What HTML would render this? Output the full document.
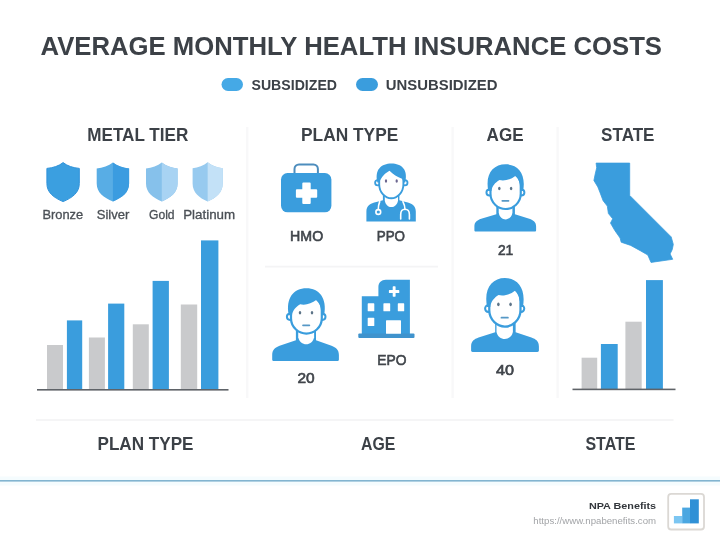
<!DOCTYPE html>
<html lang="en">
<head>
<meta charset="utf-8">
<title>Average Monthly Health Insurance Costs</title>
<style>
  html, body { margin: 0; padding: 0; background: #ffffff; }
  body { width: 720px; height: 541px; overflow: hidden; font-family: "Liberation Sans", sans-serif; }
  svg { display: block; }
  text { font-family: "Liberation Sans", sans-serif; }
  .h { font-weight: bold; fill: #3c4147; }
  .m { font-weight: normal; fill: #40454b; stroke: #40454b; stroke-width: 0.6px; }
  .r { font-weight: normal; fill: #4b5056; stroke: #4b5056; stroke-width: 0.32px; }
</style>
</head>
<body>
<svg width="720" height="541" viewBox="0 0 720 541">
  <defs>
    <!-- shield -->
    <path id="shield" d="M16.2,0 C12,3.4 6,5.3 0,5.8 L0,21 C0,30 7,35.2 16.2,39 C25.4,35.2 32.4,30 32.4,21 L32.4,5.8 C26.4,5.3 20.4,3.4 16.2,0 Z"/>
    <clipPath id="shieldR"><rect x="16.2" y="-1" width="18" height="42"/></clipPath>

    <!-- person -->
    <g id="pbody">
      <path fill="#3a9ddd" d="M1.5,73 C0.5,73 0,72.5 0,71.5 L0,67 C0,61.6 3,59.3 7.4,57.6 L23.8,52 L23.8,40 L44,40 L44,52 L59.6,57.6 C64,59.3 67,61.6 67,67 L67,71.5 C67,72.5 66.5,73 65.5,73 Z"/>
    </g>
    <g id="pneck">
      <path fill="#ffffff" d="M25.6,36 L25.6,49.4 C26.5,54 30.2,56.4 33.9,56.4 C37.6,56.4 41.3,54 42.2,49.4 L42.2,36 Z"/>
    </g>
    <g id="phead">
      <circle cx="18" cy="28.6" r="3.1" fill="#ffffff" stroke="#3a9ddd" stroke-width="2"/>
      <circle cx="50.4" cy="28.6" r="3.1" fill="#ffffff" stroke="#3a9ddd" stroke-width="2"/>
      <path fill="#ffffff" stroke="#3a9ddd" stroke-width="2.2" d="M19,22 L19,30 C19,39.6 27.2,45.4 34.4,45.4 C41.6,45.4 49.8,39.6 49.8,30 L49.8,22 C49.8,13 43.4,8 34.4,8 C25.4,8 19,13 19,22 Z"/>
      <path fill="#3a9ddd" d="M16.8,27 C13.4,10 21.6,0 34.4,0 C47.2,0 55.4,10 52.2,27 L49.8,27 C49.8,20 47.6,14.4 44.6,11.6 C39.6,15.6 33.2,17.2 28.2,16 C23.6,18.6 20.6,22.4 20,27 Z"/>
      <ellipse cx="28" cy="24.6" rx="1.25" ry="1.8" fill="#5d7488"/>
      <ellipse cx="40" cy="24.6" rx="1.25" ry="1.8" fill="#5d7488"/>
      <path d="M31,37.1 L37.4,37.1" stroke="#5698c6" stroke-width="1.7" stroke-linecap="round" fill="none"/>
    </g>
  </defs>

  <rect x="0" y="0" width="720" height="541" fill="#ffffff"/>

  <!-- faint dividers -->
  <g fill="none">
    <path d="M247.2,127 V398" stroke="#f8f8f9" stroke-width="2.4"/>
    <path d="M452.6,127 V398" stroke="#f8f8f9" stroke-width="2.4"/>
    <path d="M557.6,127 V398" stroke="#f8f8f9" stroke-width="2.4"/>
    <path d="M265,266.6 H438" stroke="#f4f4f5" stroke-width="1.6"/>
    <path d="M36,420 H673.5" stroke="#f5f5f6" stroke-width="2"/>
  </g>

  <!-- title -->
  <text class="h" x="40.5" y="55.3" font-size="25" textLength="621.5" lengthAdjust="spacingAndGlyphs">AVERAGE MONTHLY HEALTH INSURANCE COSTS</text>

  <!-- legend -->
  <rect x="221.5" y="78" width="21.5" height="13" rx="6.5" fill="#45a9e6"/>
  <text class="h" x="251.5" y="90" font-size="15" textLength="85.5" lengthAdjust="spacingAndGlyphs">SUBSIDIZED</text>
  <rect x="356" y="78" width="22" height="13" rx="6.5" fill="#3a9ddd"/>
  <text class="h" x="385.8" y="90" font-size="15" textLength="111.7" lengthAdjust="spacingAndGlyphs">UNSUBSIDIZED</text>

  <!-- section headings -->
  <text class="h" x="87.3" y="141" font-size="18" textLength="101" lengthAdjust="spacingAndGlyphs">METAL TIER</text>
  <text class="h" x="301" y="141" font-size="18" textLength="97.3" lengthAdjust="spacingAndGlyphs">PLAN TYPE</text>
  <text class="h" x="486.6" y="141" font-size="18" textLength="37" lengthAdjust="spacingAndGlyphs">AGE</text>
  <text class="h" x="601.1" y="141" font-size="18" textLength="53.4" lengthAdjust="spacingAndGlyphs">STATE</text>

  <!-- shields -->
  <g transform="translate(46.9,162.6)">
    <use href="#shield" fill="#3b9fe0" stroke="#3193da" stroke-width="1"/>
  </g>
  <g transform="translate(96.7,162.6)">
    <use href="#shield" fill="#58ade5"/>
    <use href="#shield" fill="#3b9ce0" clip-path="url(#shieldR)"/>
  </g>
  <g transform="translate(146,162.6) scale(0.975,1)">
    <use href="#shield" fill="#86c1eb"/>
    <use href="#shield" fill="#a8d3f3" clip-path="url(#shieldR)"/>
  </g>
  <g transform="translate(192.6,162.3) scale(0.93,1.005)">
    <use href="#shield" fill="#97caef"/>
    <use href="#shield" fill="#c3e1f7" clip-path="url(#shieldR)"/>
  </g>

  <!-- shield labels -->
  <text class="r" x="42.5" y="218.5" font-size="13" textLength="40.7" lengthAdjust="spacingAndGlyphs">Bronze</text>
  <text class="r" x="96.7" y="218.5" font-size="13" textLength="32.6" lengthAdjust="spacingAndGlyphs">Silver</text>
  <text class="r" x="149" y="218.5" font-size="13" textLength="25.6" lengthAdjust="spacingAndGlyphs">Gold</text>
  <text class="r" x="183.2" y="218.5" font-size="13" textLength="51.9" lengthAdjust="spacingAndGlyphs">Platinum</text>

  <!-- metal tier bar chart -->
  <g fill="#c9cacc">
    <rect x="47" y="345" width="16" height="44.5"/>
    <rect x="88.9" y="337.5" width="16" height="52"/>
    <rect x="132.8" y="324.3" width="16" height="65.2"/>
    <rect x="180.8" y="304.5" width="16.4" height="85"/>
  </g>
  <g fill="#3a9ddd">
    <rect x="66.9" y="320.4" width="15.3" height="69.1"/>
    <rect x="108.1" y="303.6" width="16.2" height="85.9"/>
    <rect x="152.6" y="280.9" width="16.3" height="108.6"/>
    <rect x="201" y="240.4" width="17.4" height="149.1"/>
  </g>
  <rect x="37" y="389" width="191.5" height="1.6" fill="#5f6368"/>

  <!-- HMO briefcase -->
  <g>
    <rect x="294.5" y="164.5" width="23.4" height="16" rx="4.5" fill="none" stroke="#4d8dbd" stroke-width="2"/>
    <rect x="281" y="173" width="50.4" height="39.3" rx="6.5" fill="#3a9ddd"/>
    <path fill="#ffffff" d="M303.3,182.5 H309.7 Q310.7,182.5 310.7,183.5 V189.3 H316.2 Q317.2,189.3 317.2,190.3 V196.7 Q317.2,197.7 316.2,197.7 H310.7 V202.9 Q310.7,203.9 309.7,203.9 H303.3 Q302.3,203.9 302.3,202.9 V197.7 H296.9 Q295.9,197.7 295.9,196.7 V190.3 Q295.9,189.3 296.9,189.3 H302.3 V183.5 Q302.3,182.5 303.3,182.5 Z"/>
  </g>
  <text class="m" x="290.1" y="241" font-size="14.4" textLength="33.1" lengthAdjust="spacingAndGlyphs">HMO</text>

  <!-- PPO doctor -->
  <g transform="translate(366.4,163.4)">
    <path fill="#3a9ddd" d="M0,58.2 L0,48 C0,42 4,40 10,38.5 L16.5,36.8 L16.5,30 L33,30 L33,36.8 L39.4,38.5 C45.4,40 49.4,42 49.4,48 L49.4,58.2 Z"/>
    <path fill="#ffffff" d="M18.4,30 L18.4,37 C19,41 21.5,43.6 24.9,43.6 C28.3,43.6 31,41 31.6,37 L31.6,30 Z"/>
    <circle cx="11.3" cy="19.4" r="2.6" fill="#ffffff" stroke="#3a9ddd" stroke-width="1.8"/>
    <circle cx="38.5" cy="19.4" r="2.6" fill="#ffffff" stroke="#3a9ddd" stroke-width="1.8"/>
    <path fill="#ffffff" stroke="#3a9ddd" stroke-width="1.9" d="M12.8,15 L12.8,21 C12.8,29 19,34.8 24.9,34.8 C30.8,34.8 37,29 37,21 L37,15 C37,8 32,4 24.9,4 C17.8,4 12.8,8 12.8,15 Z"/>
    <path fill="#3a9ddd" d="M11,19 C8,6 15,0 25,0 C35,0 42,6 38.8,19 L37,19 C36.7,17.4 36.2,16.2 35.6,15.3 C31,13.6 26.6,11 23.1,7.4 C19,9.6 15,13.2 13,19 Z"/>
    <ellipse cx="19.6" cy="17.6" rx="1.15" ry="1.75" fill="#6d6790"/>
    <ellipse cx="30.3" cy="17.6" rx="1.15" ry="1.75" fill="#6d6790"/>
    <!-- stethoscope -->
    <g fill="none" stroke="#ffffff" stroke-width="1.6" stroke-linecap="round">
      <path d="M13.3,38.2 C12.2,41 11.8,43.5 11.9,46"/>
      <circle cx="11.9" cy="48.6" r="2.4"/>
      <path d="M36.5,38.2 C38,41 38.6,43.5 38.6,46"/>
      <path d="M34.3,55.5 L34.3,51 C34.3,47.5 36,45.8 38.6,45.8 C41.2,45.8 43,47.5 43,51 L43,55.5"/>
    </g>
  </g>
  <text class="m" x="376.7" y="241" font-size="14.4" textLength="28.3" lengthAdjust="spacingAndGlyphs">PPO</text>

  <!-- AGE 21 -->
  <g transform="translate(474.4,171.6) scale(0.921,0.819)"><use href="#pbody"/></g>
  <g transform="translate(477.6,165.8) scale(0.825,0.95)"><use href="#pneck"/></g>
  <g transform="translate(471.8,164.3) scale(0.983,0.985)"><use href="#phead"/></g>
  <text class="m" x="497.9" y="255" font-size="14.4" textLength="15.4" lengthAdjust="spacingAndGlyphs">21</text>

  <!-- California -->
  <path fill="#3a9ddd" stroke="#3a9ddd" stroke-width="0.8" stroke-linejoin="round" d="M596.1,163.1 L629.7,163.1 L629.7,195.4 L671.2,236.9 L673.3,244.4 L672.2,249.7 L670.1,253.9 L672.7,259.3 L651,262.4 L647.8,255 L640.3,250.7 L630.7,245.4 L621.2,242.2 L620.1,238 L614.8,230.5 L610.5,223.1 L612.7,218.8 L608.4,213.5 L607.3,206.1 L603.1,200.7 L599.9,192.2 L597.8,186.9 L593.9,180.5 L595.2,174.1 L596.7,167.8 Z"/>

  <!-- person 20 -->
  <g transform="translate(272.2,289) scale(0.9955,0.986)"><use href="#pbody"/></g>
  <g transform="translate(273.7,287.8) scale(0.958,1)"><use href="#pneck"/></g>
  <g transform="translate(272,288.3) scale(1,0.997)"><use href="#phead"/></g>
  <text class="m" x="297.5" y="383" font-size="14.4" textLength="17.2" lengthAdjust="spacingAndGlyphs">20</text>

  <!-- EPO hospital -->
  <g>
    <path fill="#3a9ddd" d="M361.8,296.3 H378.4 V287 C378.4,282.6 381.4,279.7 385.8,279.7 H409.9 V335 H361.8 Z"/>
    <rect x="358.3" y="333.6" width="56.2" height="4.3" rx="1" fill="#3f93cd"/>
    <g fill="#ffffff">
      <rect x="367.7" y="303.3" width="6.6" height="8" rx="0.6"/>
      <rect x="383.4" y="303.3" width="6.8" height="8" rx="0.6"/>
      <rect x="397.8" y="303.3" width="6.4" height="8" rx="0.6"/>
      <rect x="367.7" y="317.8" width="6.6" height="8.3" rx="0.6"/>
      <rect x="386" y="320.2" width="15" height="13.6" rx="0.6"/>
      <rect x="392.7" y="286.3" width="2.9" height="10.4" rx="0.6"/>
      <rect x="388.9" y="290.1" width="10.4" height="2.9" rx="0.6"/>
    </g>
  </g>
  <text class="m" x="377.2" y="365" font-size="14.4" textLength="29.2" lengthAdjust="spacingAndGlyphs">EPO</text>

  <!-- person 40 -->
  <g transform="translate(471.1,283.2) scale(1.012,0.943)"><use href="#pbody"/></g>
  <g transform="translate(471.2,282.5) scale(0.988,1)"><use href="#pneck"/></g>
  <g transform="translate(470,278) scale(1.014,1.07)"><use href="#phead"/></g>
  <text class="m" x="496" y="375" font-size="14.4" textLength="18" lengthAdjust="spacingAndGlyphs">40</text>

  <!-- state bar chart -->
  <g fill="#c9cacc">
    <rect x="581.6" y="357.7" width="15.6" height="31.8"/>
    <rect x="625.4" y="321.7" width="16.3" height="67.8"/>
  </g>
  <g fill="#3a9ddd">
    <rect x="600.9" y="344" width="16.8" height="45.5"/>
    <rect x="646" y="280.1" width="16.9" height="109.4"/>
  </g>
  <rect x="572.5" y="388.6" width="103" height="1.6" fill="#5f6368"/>

  <!-- bottom labels -->
  <text class="h" x="97.5" y="450" font-size="18" textLength="96" lengthAdjust="spacingAndGlyphs">PLAN TYPE</text>
  <text class="h" x="361.1" y="449.5" font-size="18" textLength="34.3" lengthAdjust="spacingAndGlyphs">AGE</text>
  <text class="h" x="585.4" y="449.5" font-size="18" textLength="50.1" lengthAdjust="spacingAndGlyphs">STATE</text>

  <!-- footer -->
  <rect x="0" y="476.5" width="720" height="9" fill="#f5fcfe"/>
  <rect x="0" y="480" width="720" height="1.6" fill="#82b4d0"/>
  <text x="588.9" y="509" font-size="9.9" font-weight="bold" fill="#33373c" textLength="67.2" lengthAdjust="spacingAndGlyphs">NPA Benefits</text>
  <text x="533.3" y="524.2" font-size="8.8" fill="#a2a4a7" textLength="122.8" lengthAdjust="spacingAndGlyphs">https://www.npabenefits.com</text>
  <rect x="668.2" y="493.9" width="35.8" height="35.6" rx="3" fill="#ffffff" stroke="#dbd8d4" stroke-width="1.8"/>
  <rect x="673.9" y="516" width="8.4" height="7.4" fill="#7cc6f2"/>
  <rect x="682.2" y="507.6" width="7.9" height="15.8" fill="#4ba7e1"/>
  <rect x="690" y="499.3" width="8.8" height="24.1" fill="#2f90d6"/>
</svg>
</body>
</html>
